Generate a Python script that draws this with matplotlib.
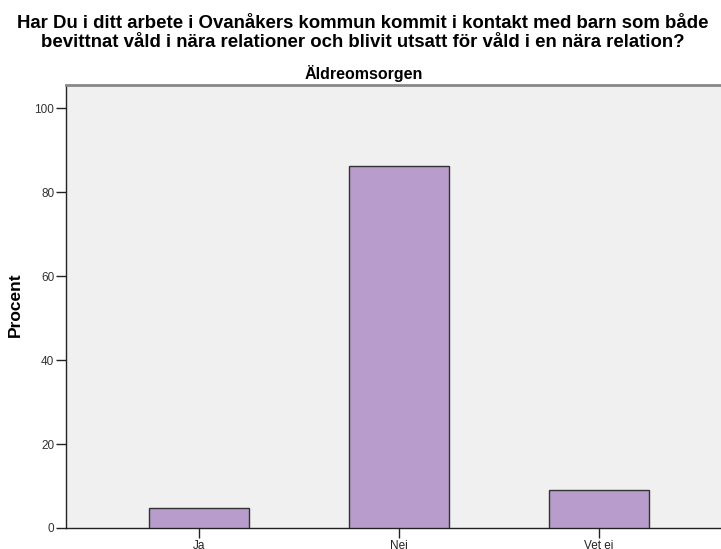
import matplotlib
matplotlib.use("Agg")
import matplotlib.pyplot as plt

categories = ["Ja", "Nej", "Vet ej"]
percent = [4.7, 86.3, 9.0]
yticks = [0, 20, 40, 60, 80, 100]

title_lines = ["Har Du i ditt arbete i Ovanåkers kommun kommit i kontakt med barn som både",
               "bevittnat våld i nära relationer och blivit utsatt för våld i en nära relation?"]
subtitle = "Äldreomsorgen"

plt.rcParams["font.family"] = ["Liberation Sans", "DejaVu Sans"]

W, H = 721, 549
fig = plt.figure(figsize=(W / 100, H / 100), dpi=100)
ax = fig.add_axes([66 / W, 21 / H, 666 / W, 443 / H])
ax.set_facecolor("#F0F0F0")

x = list(range(len(categories)))
ax.bar(x, percent, width=0.5, color="#B89CCB", edgecolor="#333333", linewidth=1.0, zorder=3)

ax.set_xlim(-0.665, 2.665)
ax.set_ylim(0, 105.5)
ax.set_xticks(x)
ax.set_xticklabels(categories, fontsize=8.5, color="#222222")
ax.set_yticks(yticks)
ax.set_yticklabels([str(v) for v in yticks], fontsize=8.5, color="#333333")
ax.tick_params(axis="both", direction="out", length=7, width=1, color="#222222", pad=1.5)

for s in ["left", "bottom"]:
    ax.spines[s].set_color("#222222")
    ax.spines[s].set_linewidth(1.0)
ax.spines["top"].set_color("#888888")
ax.spines["top"].set_linewidth(2.0)
ax.spines["right"].set_visible(False)

fig.text(15.5 / W, 1 - 305 / H, "Procent", rotation=90, ha="center", va="center",
         fontsize=12.5, fontweight="bold")

fig.text(362.5 / W, 1 - 28 / H, title_lines[0], ha="center", va="baseline",
         fontsize=13.4, fontweight="bold")
fig.text(362.5 / W, 1 - 47 / H, title_lines[1], ha="center", va="baseline",
         fontsize=13.4, fontweight="bold")
fig.text(364 / W, 1 - 79 / H, subtitle, ha="center", va="baseline", fontsize=11.5,
         fontweight="bold")

fig.savefig("out.png", dpi=100)
plt.close()
